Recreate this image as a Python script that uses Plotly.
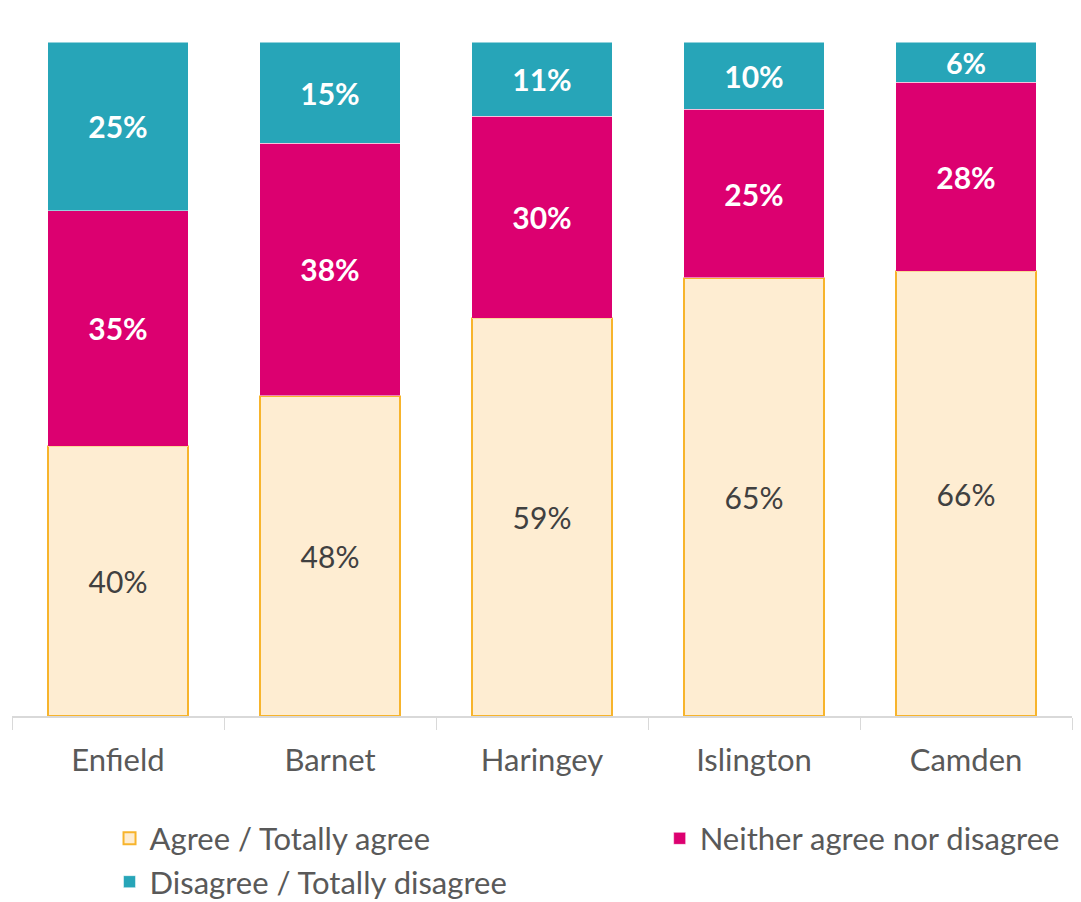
import plotly.graph_objects as go

categories = ["Enfield", "Barnet", "Haringey", "Islington", "Camden"]
agree = [40, 47.5, 59, 65, 66]
neither = [35, 37.5, 30, 25, 28]
disagree = [25, 15, 11, 10, 6]
agree_labels = ["40%", "48%", "59%", "65%", "66%"]
neither_labels = ["35%", "38%", "30%", "25%", "28%"]
disagree_labels = ["25%", "15%", "11%", "10%", "6%"]

FONT = "Lato"

fig = go.Figure()
fig.add_trace(go.Bar(
    x=categories, y=agree, name="Agree / Totally agree", legend="legend",
    text=agree_labels, textposition="inside", insidetextanchor="middle",
    textfont=dict(family=FONT, size=30, color="#404040"),
    marker=dict(color="#FEEDD2", line=dict(color="#F7B42C", width=2)),
))
fig.add_trace(go.Bar(
    x=categories, y=neither, name="Neither agree nor disagree", legend="legend2",
    text=neither_labels, textposition="inside", insidetextanchor="middle",
    textfont=dict(family=FONT, size=30, color="white", weight="bold"),
    marker=dict(color="#DC0070", line=dict(color="white", width=0.5)),
))
fig.add_trace(go.Bar(
    x=categories, y=disagree, name="Disagree / Totally disagree", legend="legend",
    text=disagree_labels, textposition="inside", insidetextanchor="middle",
    textfont=dict(family=FONT, size=30, color="white", weight="bold"),
    marker=dict(color="#27A5B8", line=dict(color="white", width=0.5)),
))

legend_font = dict(family=FONT, size=31, color="#595959")
fig.update_layout(
    barmode="stack",
    bargap=0.335,
    width=1081, height=902,
    margin=dict(l=4, r=17, t=34, b=194, autoexpand=False),
    plot_bgcolor="white", paper_bgcolor="white",
    uniformtext=dict(mode=False),
    showlegend=True,
    legend=dict(
        orientation="v", x=0.092, xanchor="left", y=-0.142, yanchor="top",
        font=legend_font, traceorder="normal", itemclick=False,
        tracegroupgap=0,
    ),
    legend2=dict(
        orientation="v", x=0.611, xanchor="left", y=-0.142, yanchor="top",
        font=legend_font, itemclick=False,
    ),
)
fig.update_xaxes(
    showline=True, linecolor="#D9D9D9", linewidth=1.5,
    ticks="outside", tickson="boundaries", ticklen=12, tickcolor="#D9D9D9",
    ticklabelstandoff=16,
    tickfont=dict(family=FONT, size=31, color="#595959"),
    showgrid=False,
)
fig.update_yaxes(range=[0, 100], visible=False, showgrid=False)

fig.write_html("out.html")
